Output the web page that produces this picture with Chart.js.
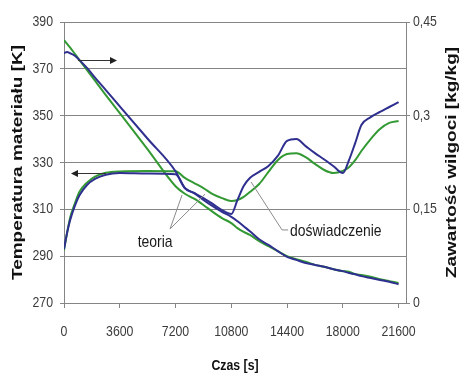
<!DOCTYPE html>
<html>
<head>
<meta charset="utf-8">
<script src="https://cdn.jsdelivr.net/npm/chart.js@4.4.0/dist/chart.umd.min.js"></script>
<style>
  html, body { margin: 0; padding: 0; background: #fff; }
  #wrap { width: 463px; height: 375px; }
</style>
</head>
<body>
<div id="wrap"><canvas id="myChart" width="463" height="375"></canvas></div>
<script>
// czas [s]
const czas = [0, 200, 400, 700, 1000, 1500, 2000, 2700, 3600, 5400, 7200, 7800, 8400, 9000, 9600, 10200, 10800,
  11200, 11600, 12000, 12600, 13200, 13800, 14400, 15000, 15600, 16200, 16800, 17400, 18000,
  18400, 18800, 19200, 19800, 20400, 21000, 21600];

// temperatura materialu [K]
const tempTeoria = [292.5, 300, 306.5, 312.5, 317.5, 321.5, 324, 325.6, 326.2, 326.4, 326.3, 323.4, 321.2, 319.1, 316.5, 314.8, 313.6,
  314, 315.3, 317.4, 320.8, 326, 331, 333.6, 334, 332.3, 329.4, 326.8, 325.5, 326.4,
  328, 331, 334.9, 340, 344.3, 346.9, 347.7];
const tempDoswiadczenie = [293, 300, 305.5, 311.5, 316, 320.5, 323, 324.8, 325.5, 325.3, 325, 319.1, 317, 314.8, 312.3, 309.7, 308,
  314, 320, 323.4, 326, 328.5, 332.8, 339.2, 340, 337, 334, 331.3, 328.4, 325.5,
  331, 338.3, 346, 349.4, 351.6, 353.7, 355.8];

// zawartosc wilgoci [kg/kg]
const wilgocTeoria = [0.421, 0.415, 0.409, 0.399, 0.389, 0.3725, 0.356, 0.333, 0.304, 0.246, 0.187, 0.175, 0.167, 0.157, 0.146, 0.136, 0.128,
  0.120, 0.114, 0.109, 0.099, 0.091, 0.083, 0.075, 0.070, 0.066, 0.061, 0.058, 0.054, 0.051,
  0.050, 0.046, 0.045, 0.042, 0.038, 0.035, 0.032];
const wilgocDoswiadczenie = [0.400, 0.402, 0.400, 0.396, 0.389, 0.376, 0.361, 0.341, 0.315, 0.263, 0.211, 0.184, 0.176, 0.165, 0.155, 0.146, 0.138,
  0.131, 0.123, 0.115, 0.102, 0.093, 0.083, 0.074, 0.069, 0.064, 0.061, 0.058, 0.054, 0.051,
  0.048, 0.046, 0.043, 0.040, 0.037, 0.034, 0.030];

const xTicks = [0, 3600, 7200, 10800, 14400, 18000, 21600];
const tempTicks = [270, 290, 310, 330, 350, 370, 390];
const wilgocTicks = [0, 0.15, 0.3, 0.45];

const sans = '"Liberation Sans", Arial, sans-serif';
const green = '#339933';
const blue = '#2f2f8f';
const axisGray = '#858585';

const toPoints = (ys) => czas.map((t, i) => ({ x: t, y: ys[i] }));

// the picture is squeezed sideways, so text is drawn narrowed
function narrowText(ctx, text, x, y, font, align, color) {
  ctx.save();
  ctx.translate(x, y);
  ctx.scale(0.82, 1);
  ctx.font = font;
  ctx.fillStyle = color;
  ctx.textAlign = align;
  ctx.textBaseline = 'middle';
  ctx.fillText(text, 0, 0);
  ctx.restore();
}

// tick labels, placed through the scales
const tickLabels = {
  draw(chart) {
    const { ctx, chartArea } = chart;
    const { x, y, y1 } = chart.scales;
    const f = '15px ' + sans;
    xTicks.forEach(v => narrowText(ctx, String(v), x.getPixelForValue(v), chartArea.bottom + 29, f, 'center', '#3c3c3c'));
    tempTicks.forEach(v => narrowText(ctx, String(v), chartArea.left - 11, y.getPixelForValue(v), f, 'right', '#3c3c3c'));
    wilgocTicks.forEach(v => narrowText(ctx, String(v).replace('.', ','), chartArea.right + 7, y1.getPixelForValue(v), f, 'left', '#3c3c3c'));
  }
};

// arrows, labels and leader lines, placed in data units
const annotations = {
  draw(chart) {
    const { ctx } = chart;
    const x = chart.scales.x, y = chart.scales.y;
    const px = (t) => x.getPixelForValue(t);
    const py = (v) => y.getPixelForValue(v);

    const arrow = (t0, t1, v) => {
      const x0 = px(t0), x1 = px(t1), yy = Math.round(py(v)) + 0.5;
      const dir = Math.sign(x1 - x0);
      ctx.save();
      ctx.strokeStyle = '#333';
      ctx.fillStyle = '#222';
      ctx.lineWidth = 1;
      ctx.beginPath();
      ctx.moveTo(x0, yy);
      ctx.lineTo(x1 - dir * 5, yy);
      ctx.stroke();
      ctx.beginPath();
      ctx.moveTo(x1, yy);
      ctx.lineTo(x1 - dir * 7, yy - 3.5);
      ctx.lineTo(x1 - dir * 7, yy + 3.5);
      ctx.closePath();
      ctx.fill();
      ctx.restore();
    };

    const leader = (pts) => {
      ctx.save();
      ctx.strokeStyle = '#8c8c8c';
      ctx.lineWidth = 1;
      ctx.beginPath();
      pts.forEach(([t, v], i) => i ? ctx.lineTo(px(t), py(v)) : ctx.moveTo(px(t), py(v)));
      ctx.stroke();
      ctx.restore();
    };

    arrow(900, 3420, 373.8);
    arrow(2700, 450, 325.5);

    leader([[7620, 316.1], [6845, 301.6], [9105, 316.5]]);
    leader([[12075, 321.7], [14077, 301.2], [14465, 301.2]]);

    const f = '17px ' + sans;
    narrowText(ctx, 'teoria', px(5880), py(296), f, 'center', '#1a1a1a');
    narrowText(ctx, 'doświadczenie', px(14594), py(300.7), f, 'left', '#1a1a1a');
  }
};

// axis titles (the rotated ones read bottom-to-top on both sides)
const titles = {
  draw(chart) {
    const { ctx, chartArea } = chart;
    const midY = (chartArea.top + chartArea.bottom) / 2;
    const rotated = (text, cx) => {
      ctx.save();
      ctx.translate(cx, midY);
      ctx.rotate(-Math.PI / 2);
      ctx.scale(1, 0.8);
      ctx.font = 'bold 19px ' + sans;
      ctx.fillStyle = '#111';
      ctx.textAlign = 'center';
      ctx.textBaseline = 'middle';
      ctx.fillText(text, 0, 0);
      ctx.restore();
    };
    rotated('Temperatura materiału [K]', 18);
    rotated('Zawartość wilgoci [kg/kg]', 452);

    narrowText(ctx, 'Czas [s]', (chartArea.left + chartArea.right) / 2, 366, 'bold 15px ' + sans, 'center', '#111');
  }
};

new Chart(document.getElementById('myChart').getContext('2d'), {
  type: 'line',
  data: {
    datasets: [
      { label: 'doświadczenie T', data: toPoints(tempDoswiadczenie), yAxisID: 'y', borderColor: blue, order: 0 },
      { label: 'doświadczenie X', data: toPoints(wilgocDoswiadczenie), yAxisID: 'y1', borderColor: blue, order: 1 },
      { label: 'teoria T', data: toPoints(tempTeoria), yAxisID: 'y', borderColor: green, order: 2 },
      { label: 'teoria X', data: toPoints(wilgocTeoria), yAxisID: 'y1', borderColor: green, order: 3 }
    ]
  },
  options: {
    responsive: false,
    animation: false,
    devicePixelRatio: 1,
    layout: { padding: { top: 22, left: 0, right: 0, bottom: 0 } },
    elements: {
      point: { radius: 0 },
      line: { borderWidth: 2, fill: false, cubicInterpolationMode: 'monotone' }
    },
    plugins: { legend: { display: false }, tooltip: { enabled: false } },
    scales: {
      x: {
        type: 'linear',
        min: 0,
        max: 22080,
        afterBuildTicks: (s) => { s.ticks = xTicks.map(v => ({ value: v })); },
        afterFit: (s) => { s.height = 72; },
        ticks: { display: false },
        grid: { drawOnChartArea: false, drawTicks: true, tickLength: 5, color: axisGray },
        border: { color: axisGray }
      },
      y: {
        position: 'left',
        min: 270,
        max: 390,
        afterBuildTicks: (s) => { s.ticks = tempTicks.map(v => ({ value: v })); },
        afterFit: (s) => { s.width = 64; },
        ticks: { display: false },
        grid: { color: axisGray, tickLength: 4 },
        border: { color: axisGray }
      },
      y1: {
        position: 'right',
        min: 0,
        max: 0.45,
        afterBuildTicks: (s) => { s.ticks = wilgocTicks.map(v => ({ value: v })); },
        afterFit: (s) => { s.width = 57; },
        ticks: { display: false },
        grid: { drawOnChartArea: false, tickLength: 4, color: axisGray },
        border: { color: axisGray }
      }
    }
  },
  plugins: [
    { id: 'annotations', afterDatasetsDraw: (chart) => annotations.draw(chart) },
    { id: 'labels', afterDraw: (chart) => { tickLabels.draw(chart); titles.draw(chart); } }
  ]
});
</script>
</body>
</html>
